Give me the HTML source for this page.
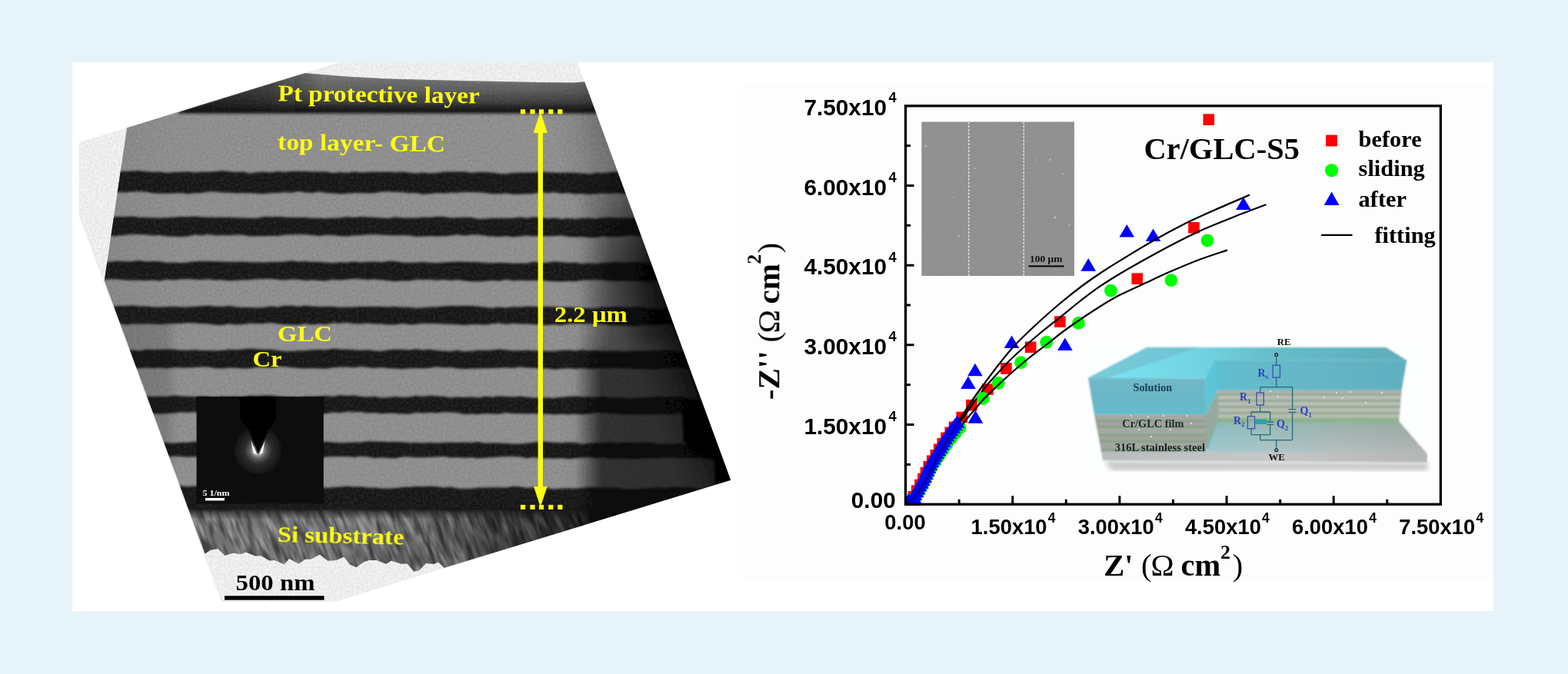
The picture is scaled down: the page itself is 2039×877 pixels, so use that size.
<!DOCTYPE html>
<html lang="en"><head><meta charset="utf-8"><title>Cr/GLC multilayer - TEM cross-section and Nyquist plot</title>
<style>
html,body{margin:0;padding:0;background:#e6f4fa;overflow:hidden}
svg{display:block}
.ser{font-family:"Liberation Serif",serif;font-weight:bold}
.san{font-family:"Liberation Sans",sans-serif;font-weight:bold}
</style></head><body>
<svg width="2039" height="877" viewBox="0 0 2039 877">
<defs>
<filter id="b1" x="-5%" y="-5%" width="110%" height="110%"><feGaussianBlur stdDeviation="1"/></filter>
<filter id="b06" x="-5%" y="-5%" width="110%" height="110%"><feGaussianBlur stdDeviation="0.6"/></filter>
<filter id="b15" x="-5%" y="-20%" width="110%" height="140%"><feGaussianBlur stdDeviation="1.6"/></filter>
<filter id="b3" x="-10%" y="-10%" width="120%" height="120%"><feGaussianBlur stdDeviation="3"/></filter>
<filter id="b6" x="-20%" y="-20%" width="140%" height="140%"><feGaussianBlur stdDeviation="6"/></filter>
<filter id="nz" x="0" y="0" width="100%" height="100%">
 <feTurbulence type="fractalNoise" baseFrequency="0.35" numOctaves="2" seed="3" result="t"/>
 <feColorMatrix in="t" type="matrix" values="0 0 0 0 0  0 0 0 0 0  0 0 0 0 0  1.4 0 0 0 -0.45"/>
</filter>
<filter id="nzw" x="0" y="0" width="100%" height="100%">
 <feTurbulence type="fractalNoise" baseFrequency="0.3" numOctaves="2" seed="11" result="t"/>
 <feColorMatrix in="t" type="matrix" values="0 0 0 0 1  0 0 0 0 1  0 0 0 0 1  1.4 0 0 0 -0.45"/>
</filter>
<filter id="si" x="0" y="0" width="100%" height="100%">
 <feTurbulence type="fractalNoise" baseFrequency="0.11 0.018" numOctaves="3" seed="5" result="t"/>
 <feColorMatrix in="t" type="matrix" values="0 0 0 0 1  0 0 0 0 1  0 0 0 0 1  3.2 0 0 0 -1.35"/>
</filter>
<filter id="si2" x="0" y="0" width="100%" height="100%">
 <feTurbulence type="fractalNoise" baseFrequency="0.14 0.03" numOctaves="2" seed="9" result="t"/>
 <feColorMatrix in="t" type="matrix" values="0 0 0 0 0  0 0 0 0 0  0 0 0 0 0  3.2 0 0 0 -1.35"/>
</filter>
</defs>
<rect x="94" y="81" width="1848" height="714" fill="#ffffff"/>
<rect x="965" y="108.5" width="977" height="647.5" fill="#fdfdfd"/>
<clipPath id="cTEM"><polygon points="102.6,185.4 441.9,81.0 751.0,81.0 950.3,624.7 435.0,783.2 288.0,783.2 102.6,280.0"/></clipPath>
<clipPath id="cS"><polygon points="165.3,164.8 396.0,95.0 450.0,99.5 500.0,102.3 600.0,105.0 700.0,107.0 745.0,107.5 759.0,106.5 761.3,106.5 951.0,625.0 577.0,739.0 577.0,738.0 578.7,739.6 570.1,731.5 564.1,733.8 553.9,733.0 544.8,742.3 538.2,743.4 529.4,733.2 521.3,733.4 508.6,729.4 502.3,733.7 489.8,729.0 479.7,728.9 473.3,731.0 463.4,738.1 454.9,734.4 447.5,724.4 436.8,729.0 426.2,729.5 415.8,721.5 404.3,727.5 397.1,727.6 388.2,733.4 376.0,726.8 369.9,734.3 357.3,728.9 350.1,729.2 339.8,723.3 331.7,723.2 320.0,718.4 312.2,721.0 303.7,719.6 292.3,722.8 283.5,714.1 274.2,715.5 266.5,720.4 135.7,365.3"/></clipPath>
<g clip-path="url(#cTEM)">
<rect x="95" y="75" width="870" height="720" fill="#f3f3f3"/>
<rect x="95" y="75" width="870" height="720" fill="#000" opacity="0.09" filter="url(#nz)"/>
<g filter="url(#b06)"><g clip-path="url(#cS)">
<linearGradient id="gGLC" gradientUnits="userSpaceOnUse" x1="130" y1="0" x2="960" y2="0"><stop offset="0" stop-color="#888888"/><stop offset="0.12" stop-color="#909090"/><stop offset="0.72" stop-color="#919191"/><stop offset="0.78" stop-color="#868686"/><stop offset="1" stop-color="#7a7a7a"/></linearGradient>
<rect x="95" y="75" width="870" height="720" fill="url(#gGLC)"/>
<rect x="95" y="75" width="870" height="720" fill="#fff" opacity="0.10" filter="url(#nzw)"/>
<rect x="95" y="75" width="870" height="720" fill="#000" opacity="0.10" filter="url(#nz)"/>
<linearGradient id="gSi" gradientUnits="userSpaceOnUse" x1="250" y1="0" x2="900" y2="0"><stop offset="0" stop-color="#747474"/><stop offset="0.45" stop-color="#666666"/><stop offset="0.7" stop-color="#424242"/><stop offset="1" stop-color="#101010"/></linearGradient>
<rect x="200" y="655" width="760" height="140" fill="url(#gSi)"/>
<clipPath id="cSi"><rect x="200" y="664" width="760" height="130"/></clipPath>
<g clip-path="url(#cSi)"><g transform="rotate(-27 450 700)" opacity="0.30"><rect x="100" y="400" width="1000" height="700" fill="#fff" filter="url(#si)"/></g><g transform="rotate(-20 450 700)" opacity="0.45"><rect x="100" y="400" width="1000" height="700" fill="#000" filter="url(#si2)"/></g></g>
<linearGradient id="gSiR" gradientUnits="userSpaceOnUse" x1="560" y1="0" x2="900" y2="0"><stop offset="0" stop-color="#000" stop-opacity="0"/><stop offset="1" stop-color="#000" stop-opacity="0.85"/></linearGradient>
<rect x="560" y="655" width="400" height="140" fill="url(#gSiR)"/>
<linearGradient id="gSiT" gradientUnits="userSpaceOnUse" x1="0" y1="660" x2="0" y2="676"><stop offset="0" stop-color="#1c1c1c" stop-opacity="1"/><stop offset="1" stop-color="#1c1c1c" stop-opacity="0"/></linearGradient>
<rect x="200" y="655" width="760" height="22" fill="url(#gSiT)"/>
<linearGradient id="gPt" gradientUnits="userSpaceOnUse" x1="0" y1="94" x2="0" y2="150"><stop offset="0" stop-color="#787878"/><stop offset="0.4" stop-color="#5e5e5e"/><stop offset="0.68" stop-color="#404040"/><stop offset="0.84" stop-color="#1e1e1e"/><stop offset="0.92" stop-color="#1e1e1e"/><stop offset="1" stop-color="#1e1e1e" stop-opacity="0"/></linearGradient>
<polygon points="232.0,146.0 396.0,94.0 396.0,95.0 450.0,99.5 500.0,102.3 600.0,105.0 700.0,107.0 745.0,107.5 759.0,106.5 800.0,100.0 800.0,150.5 232.0,150.5" fill="url(#gPt)" filter="url(#b1)"/>
<linearGradient id="gPtL" gradientUnits="userSpaceOnUse" x1="240" y1="0" x2="420" y2="0"><stop offset="0" stop-color="#161616" stop-opacity="0.75"/><stop offset="0.6" stop-color="#161616" stop-opacity="0.5"/><stop offset="1" stop-color="#161616" stop-opacity="0"/></linearGradient>
<polygon points="236,145 400,93 420,96 420,146" fill="url(#gPtL)" filter="url(#b1)"/>
<rect x="230" y="90" width="560" height="52" fill="#fff" opacity="0.07" filter="url(#nzw)"/>
<g filter="url(#b15)">
<polygon points="100.0,224.6 109.0,224.8 118.0,224.5 127.0,223.9 136.0,224.7 145.0,224.3 154.0,223.3 163.0,223.1 172.0,222.5 181.0,222.2 190.0,223.2 199.0,224.1 208.0,223.5 217.0,225.1 226.0,224.1 235.0,223.9 244.0,223.2 253.0,224.6 262.0,223.7 271.0,223.8 280.0,223.2 289.0,222.3 298.0,223.2 307.0,223.9 316.0,223.6 325.0,225.4 334.0,224.3 343.0,223.7 352.0,224.6 361.0,222.9 370.0,224.1 379.0,222.9 388.0,223.1 397.0,222.9 406.0,223.6 415.0,223.4 424.0,223.5 433.0,225.3 442.0,224.1 451.0,224.9 460.0,223.5 469.0,224.6 478.0,224.1 487.0,223.7 496.0,223.7 505.0,223.6 514.0,224.3 523.0,223.6 532.0,224.7 541.0,225.6 550.0,224.4 559.0,225.5 568.0,225.1 577.0,223.8 586.0,223.4 595.0,223.4 604.0,223.4 613.0,224.9 622.0,224.1 631.0,223.9 640.0,224.4 649.0,225.7 658.0,226.2 667.0,225.0 676.0,224.7 685.0,224.4 694.0,224.5 703.0,223.4 712.0,224.2 721.0,224.4 730.0,225.0 739.0,224.6 748.0,224.9 757.0,225.4 766.0,226.5 775.0,225.1 784.0,225.2 793.0,224.3 802.0,223.6 811.0,223.5 820.0,225.0 829.0,225.3 838.0,225.0 847.0,226.0 856.0,226.3 865.0,226.8 874.0,226.9 883.0,225.5 892.0,226.3 901.0,225.8 910.0,224.9 919.0,225.4 928.0,224.8 937.0,224.9 946.0,225.1 955.0,226.8 964.0,225.7 964.0,252.8 955.0,253.5 946.0,252.8 937.0,251.0 928.0,251.8 919.0,251.8 910.0,252.4 901.0,252.0 892.0,253.7 883.0,253.5 874.0,253.1 865.0,253.2 856.0,251.9 847.0,253.1 838.0,251.9 829.0,251.5 820.0,250.9 811.0,252.2 802.0,251.3 793.0,251.9 784.0,251.6 775.0,252.3 766.0,253.1 757.0,252.1 748.0,252.6 739.0,251.1 730.0,251.8 721.0,250.2 712.0,250.9 703.0,250.1 694.0,251.9 685.0,252.3 676.0,252.8 667.0,252.7 658.0,251.5 649.0,252.2 640.0,252.2 631.0,251.1 622.0,250.3 613.0,250.0 604.0,250.0 595.0,250.7 586.0,250.7 577.0,251.5 568.0,251.1 559.0,252.3 550.0,252.7 541.0,251.0 532.0,251.2 523.0,250.0 514.0,249.7 505.0,249.5 496.0,249.5 487.0,251.2 478.0,251.6 469.0,250.9 460.0,251.0 451.0,251.8 442.0,252.2 433.0,251.6 424.0,251.1 415.0,249.6 406.0,251.1 397.0,250.4 388.0,249.1 379.0,250.8 370.0,250.2 361.0,251.1 352.0,251.0 343.0,252.2 334.0,251.7 325.0,251.2 316.0,251.1 307.0,251.2 298.0,250.7 289.0,250.6 280.0,249.5 271.0,249.4 262.0,251.1 253.0,251.2 244.0,252.3 235.0,251.1 226.0,251.5 217.0,251.7 208.0,251.8 199.0,251.2 190.0,249.8 181.0,249.2 172.0,249.4 163.0,250.2 154.0,250.3 145.0,250.7 136.0,250.6 127.0,252.2 118.0,251.5 109.0,251.7 100.0,251.4" fill="#181818"/>
<polygon points="100.0,284.5 109.0,282.8 118.0,282.4 127.0,282.0 136.0,283.0 145.0,282.6 154.0,281.9 163.0,282.3 172.0,281.5 181.0,283.1 190.0,283.1 199.0,283.5 208.0,283.4 217.0,283.3 226.0,282.7 235.0,281.9 244.0,282.2 253.0,281.6 262.0,282.4 271.0,282.7 280.0,282.9 289.0,282.8 298.0,282.7 307.0,283.3 316.0,283.6 325.0,283.7 334.0,284.0 343.0,281.9 352.0,282.3 361.0,282.0 370.0,282.4 379.0,282.9 388.0,283.0 397.0,283.1 406.0,283.8 415.0,283.9 424.0,284.3 433.0,283.8 442.0,283.4 451.0,282.2 460.0,283.1 469.0,281.9 478.0,282.4 487.0,283.0 496.0,283.6 505.0,284.1 514.0,282.6 523.0,283.5 532.0,283.5 541.0,283.5 550.0,282.7 559.0,283.1 568.0,281.9 577.0,282.1 586.0,283.4 595.0,283.2 604.0,283.1 613.0,282.9 622.0,284.9 631.0,284.6 640.0,283.7 649.0,283.8 658.0,284.0 667.0,283.7 676.0,282.6 685.0,283.7 694.0,282.6 703.0,282.7 712.0,284.3 721.0,283.4 730.0,284.8 739.0,284.0 748.0,284.8 757.0,284.0 766.0,283.8 775.0,284.5 784.0,283.3 793.0,283.1 802.0,283.5 811.0,283.2 820.0,283.4 829.0,284.2 838.0,284.4 847.0,284.4 856.0,285.9 865.0,283.8 874.0,285.0 883.0,284.8 892.0,284.1 901.0,282.7 910.0,283.7 919.0,283.1 928.0,284.7 937.0,285.3 946.0,284.7 955.0,284.4 964.0,285.4 964.0,308.4 955.0,309.0 946.0,308.3 937.0,308.0 928.0,307.3 919.0,308.2 910.0,306.9 901.0,308.5 892.0,308.2 883.0,309.3 874.0,308.0 865.0,308.8 856.0,308.7 847.0,308.0 838.0,307.6 829.0,306.7 820.0,305.9 811.0,307.4 802.0,307.9 793.0,308.3 784.0,307.6 775.0,309.0 766.0,309.0 757.0,308.2 748.0,308.6 739.0,307.9 730.0,306.4 721.0,306.9 712.0,307.2 703.0,307.1 694.0,307.4 685.0,306.5 676.0,307.5 667.0,308.2 658.0,307.2 649.0,308.0 640.0,307.4 631.0,306.7 622.0,305.6 613.0,305.6 604.0,306.7 595.0,305.3 586.0,306.5 577.0,307.2 568.0,307.5 559.0,307.2 550.0,307.5 541.0,308.1 532.0,306.2 523.0,305.9 514.0,306.4 505.0,306.1 496.0,305.7 487.0,304.9 478.0,305.3 469.0,306.0 460.0,306.2 451.0,307.4 442.0,307.1 433.0,306.1 424.0,305.8 415.0,306.9 406.0,306.0 397.0,305.2 388.0,305.2 379.0,305.2 370.0,305.7 361.0,307.0 352.0,306.8 343.0,307.3 334.0,307.3 325.0,307.5 316.0,305.7 307.0,305.5 298.0,306.2 289.0,306.0 280.0,306.3 271.0,304.9 262.0,306.2 253.0,305.6 244.0,307.6 235.0,307.9 226.0,307.7 217.0,307.4 208.0,305.9 199.0,306.2 190.0,305.5 181.0,304.9 172.0,304.7 163.0,305.8 154.0,306.7 145.0,307.1 136.0,306.2 127.0,306.8 118.0,307.8 109.0,306.7 100.0,306.1" fill="#181818"/>
<polygon points="100.0,340.7 109.0,340.6 118.0,341.6 127.0,342.2 136.0,341.2 145.0,340.4 154.0,339.8 163.0,340.2 172.0,340.2 181.0,339.1 190.0,340.5 199.0,340.0 208.0,340.2 217.0,342.1 226.0,341.6 235.0,342.3 244.0,341.4 253.0,340.3 262.0,340.1 271.0,340.1 280.0,340.3 289.0,340.5 298.0,340.7 307.0,340.8 316.0,340.5 325.0,341.2 334.0,341.3 343.0,341.5 352.0,340.9 361.0,341.1 370.0,340.5 379.0,339.3 388.0,340.6 397.0,340.2 406.0,340.8 415.0,341.1 424.0,341.5 433.0,342.3 442.0,341.3 451.0,341.4 460.0,340.4 469.0,341.4 478.0,340.8 487.0,340.5 496.0,341.2 505.0,339.7 514.0,340.0 523.0,341.4 532.0,342.0 541.0,341.7 550.0,341.1 559.0,341.7 568.0,342.3 577.0,341.4 586.0,340.9 595.0,340.5 604.0,340.8 613.0,340.9 622.0,341.3 631.0,342.1 640.0,342.3 649.0,341.9 658.0,341.9 667.0,342.8 676.0,342.6 685.0,342.5 694.0,340.7 703.0,341.7 712.0,341.7 721.0,340.3 730.0,341.0 739.0,342.1 748.0,341.6 757.0,343.2 766.0,342.3 775.0,343.0 784.0,342.0 793.0,341.5 802.0,341.1 811.0,341.4 820.0,341.7 829.0,340.9 838.0,342.2 847.0,341.9 856.0,343.0 865.0,342.7 874.0,342.5 883.0,342.3 892.0,341.9 901.0,342.7 910.0,341.8 919.0,341.0 928.0,342.4 937.0,342.2 946.0,341.3 955.0,343.1 964.0,343.3 964.0,366.1 955.0,366.3 946.0,366.8 937.0,366.2 928.0,366.3 919.0,366.2 910.0,365.6 901.0,365.5 892.0,365.4 883.0,365.0 874.0,366.0 865.0,365.4 856.0,365.5 847.0,366.2 838.0,366.8 829.0,365.6 820.0,365.7 811.0,365.0 802.0,365.7 793.0,365.4 784.0,364.4 775.0,364.0 766.0,364.6 757.0,364.5 748.0,366.3 739.0,365.8 730.0,366.4 721.0,366.3 712.0,365.4 703.0,364.6 694.0,364.9 685.0,364.9 676.0,364.8 667.0,365.3 658.0,363.8 649.0,365.8 640.0,364.8 631.0,365.8 622.0,366.2 613.0,366.3 604.0,365.2 595.0,363.9 586.0,364.9 577.0,363.8 568.0,364.7 559.0,363.7 550.0,363.9 541.0,363.8 532.0,365.4 523.0,365.3 514.0,366.0 505.0,365.3 496.0,364.2 487.0,363.6 478.0,364.1 469.0,363.2 460.0,362.8 451.0,363.8 442.0,364.4 433.0,363.8 424.0,365.3 415.0,364.9 406.0,364.3 397.0,365.0 388.0,363.8 379.0,363.6 370.0,364.4 361.0,363.8 352.0,362.8 343.0,363.1 334.0,363.2 325.0,363.9 316.0,364.5 307.0,364.7 298.0,365.6 289.0,364.2 280.0,364.5 271.0,363.3 262.0,363.9 253.0,363.7 244.0,363.0 235.0,363.6 226.0,364.4 217.0,363.6 208.0,365.4 199.0,364.5 190.0,365.1 181.0,364.7 172.0,364.7 163.0,364.5 154.0,363.4 145.0,363.2 136.0,363.8 127.0,364.0 118.0,363.9 109.0,365.5 100.0,364.9" fill="#181818"/>
<polygon points="100.0,400.1 109.0,399.4 118.0,399.0 127.0,398.5 136.0,398.5 145.0,399.3 154.0,397.9 163.0,398.3 172.0,397.5 181.0,398.5 190.0,398.5 199.0,399.4 208.0,399.4 217.0,399.3 226.0,399.1 235.0,399.5 244.0,399.6 253.0,398.9 262.0,398.2 271.0,397.7 280.0,398.8 289.0,398.9 298.0,398.0 307.0,399.4 316.0,399.9 325.0,399.9 334.0,400.4 343.0,400.0 352.0,398.4 361.0,399.5 370.0,397.8 379.0,397.8 388.0,399.0 397.0,397.7 406.0,398.5 415.0,399.3 424.0,399.0 433.0,399.1 442.0,400.1 451.0,399.5 460.0,399.4 469.0,399.1 478.0,399.0 487.0,398.9 496.0,398.9 505.0,399.5 514.0,399.0 523.0,399.8 532.0,399.8 541.0,400.8 550.0,400.2 559.0,399.5 568.0,399.6 577.0,398.5 586.0,397.9 595.0,398.3 604.0,398.0 613.0,398.0 622.0,398.7 631.0,399.8 640.0,400.7 649.0,399.5 658.0,400.5 667.0,399.2 676.0,399.6 685.0,398.8 694.0,398.9 703.0,399.3 712.0,398.9 721.0,399.2 730.0,400.3 739.0,399.6 748.0,400.3 757.0,401.1 766.0,401.2 775.0,401.2 784.0,399.4 793.0,399.8 802.0,399.0 811.0,399.7 820.0,400.2 829.0,399.2 838.0,400.0 847.0,401.6 856.0,400.7 865.0,401.3 874.0,401.5 883.0,400.2 892.0,400.8 901.0,398.9 910.0,399.4 919.0,399.0 928.0,399.6 937.0,399.7 946.0,399.8 955.0,401.7 964.0,400.8 964.0,422.3 955.0,423.6 946.0,422.7 937.0,424.5 928.0,423.8 919.0,424.5 910.0,423.6 901.0,422.4 892.0,423.2 883.0,422.4 874.0,422.5 865.0,422.2 856.0,422.9 847.0,423.1 838.0,422.8 829.0,423.8 820.0,423.9 811.0,423.2 802.0,423.1 793.0,423.0 784.0,421.6 775.0,421.4 766.0,421.1 757.0,421.2 748.0,421.3 739.0,421.6 730.0,422.9 721.0,422.3 712.0,423.1 703.0,422.5 694.0,421.9 685.0,421.6 676.0,421.4 667.0,420.7 658.0,422.1 649.0,420.6 640.0,421.3 631.0,422.7 622.0,422.1 613.0,422.1 604.0,423.1 595.0,422.3 586.0,421.8 577.0,421.7 568.0,420.9 559.0,421.1 550.0,420.8 541.0,422.0 532.0,422.3 523.0,421.0 514.0,422.4 505.0,422.6 496.0,421.5 487.0,421.6 478.0,420.6 469.0,421.5 460.0,421.3 451.0,419.8 442.0,420.7 433.0,420.2 424.0,422.0 415.0,421.6 406.0,422.4 397.0,421.3 388.0,422.8 379.0,422.5 370.0,422.3 361.0,421.2 352.0,420.0 343.0,421.0 334.0,420.9 325.0,420.8 316.0,422.1 307.0,422.6 298.0,421.2 289.0,423.0 280.0,422.7 271.0,421.6 262.0,420.9 253.0,420.5 244.0,420.1 235.0,420.9 226.0,421.1 217.0,421.6 208.0,421.9 199.0,421.5 190.0,421.5 181.0,421.6 172.0,421.6 163.0,422.5 154.0,420.5 145.0,421.3 136.0,419.9 127.0,420.7 118.0,421.3 109.0,421.6 100.0,421.5" fill="#181818"/>
<polygon points="100.0,454.5 109.0,454.6 118.0,454.1 127.0,454.4 136.0,455.9 145.0,455.9 154.0,456.2 163.0,455.4 172.0,455.6 181.0,456.6 190.0,454.7 199.0,455.0 208.0,455.0 217.0,454.5 226.0,454.7 235.0,455.8 244.0,455.8 253.0,455.2 262.0,455.9 271.0,455.9 280.0,456.3 289.0,456.0 298.0,454.8 307.0,455.2 316.0,454.4 325.0,453.6 334.0,454.2 343.0,454.7 352.0,454.8 361.0,456.1 370.0,457.0 379.0,456.9 388.0,456.2 397.0,456.3 406.0,455.2 415.0,455.0 424.0,455.3 433.0,453.7 442.0,454.4 451.0,454.8 460.0,455.2 469.0,455.8 478.0,455.3 487.0,456.6 496.0,457.0 505.0,455.3 514.0,454.8 523.0,454.7 532.0,455.4 541.0,454.3 550.0,455.6 559.0,454.8 568.0,456.1 577.0,456.7 586.0,456.9 595.0,455.8 604.0,457.3 613.0,456.8 622.0,455.7 631.0,456.1 640.0,455.4 649.0,454.6 658.0,455.3 667.0,456.5 676.0,456.3 685.0,455.8 694.0,456.3 703.0,456.4 712.0,456.9 721.0,456.7 730.0,456.0 739.0,455.6 748.0,456.5 757.0,455.3 766.0,456.2 775.0,455.8 784.0,456.8 793.0,456.5 802.0,456.6 811.0,457.0 820.0,456.4 829.0,456.5 838.0,456.7 847.0,456.2 856.0,456.5 865.0,456.0 874.0,455.5 883.0,457.2 892.0,457.0 901.0,458.0 910.0,458.6 919.0,457.7 928.0,457.0 937.0,456.8 946.0,456.7 955.0,456.1 964.0,455.6 964.0,480.1 955.0,481.0 946.0,481.6 937.0,481.1 928.0,480.7 919.0,479.5 910.0,479.6 901.0,479.3 892.0,480.0 883.0,478.5 874.0,479.6 865.0,479.0 856.0,480.5 847.0,480.4 838.0,480.2 829.0,480.0 820.0,479.7 811.0,479.4 802.0,478.6 793.0,479.4 784.0,479.1 775.0,479.7 766.0,480.1 757.0,479.1 748.0,480.1 739.0,479.3 730.0,479.7 721.0,480.7 712.0,479.6 703.0,479.5 694.0,478.8 685.0,478.6 676.0,477.5 667.0,479.0 658.0,478.2 649.0,478.7 640.0,479.1 631.0,479.2 622.0,479.5 613.0,479.4 604.0,479.9 595.0,479.5 586.0,478.0 577.0,478.6 568.0,477.3 559.0,478.7 550.0,479.3 541.0,478.9 532.0,479.3 523.0,480.3 514.0,479.4 505.0,479.3 496.0,478.0 487.0,479.0 478.0,477.9 469.0,476.9 460.0,478.2 451.0,477.4 442.0,477.7 433.0,478.3 424.0,479.8 415.0,479.6 406.0,479.0 397.0,479.6 388.0,479.1 379.0,478.3 370.0,477.2 361.0,476.7 352.0,478.5 343.0,477.8 334.0,477.8 325.0,479.2 316.0,479.5 307.0,478.8 298.0,478.4 289.0,479.5 280.0,479.2 271.0,477.6 262.0,477.4 253.0,478.0 244.0,478.4 235.0,478.4 226.0,478.2 217.0,479.3 208.0,478.6 199.0,479.0 190.0,478.5 181.0,479.1 172.0,478.8 163.0,477.0 154.0,477.8 145.0,477.3 136.0,478.2 127.0,478.7 118.0,478.9 109.0,479.4 100.0,479.3" fill="#181818"/>
<polygon points="100.0,514.7 109.0,515.7 118.0,514.7 127.0,515.4 136.0,514.5 145.0,515.8 154.0,515.4 163.0,515.5 172.0,516.1 181.0,517.2 190.0,516.1 199.0,516.0 208.0,516.1 217.0,516.1 226.0,514.5 235.0,515.4 244.0,515.8 253.0,516.2 262.0,515.8 271.0,516.3 280.0,517.1 289.0,516.1 298.0,516.3 307.0,516.2 316.0,516.2 325.0,514.7 334.0,515.3 343.0,514.5 352.0,514.6 361.0,515.6 370.0,516.4 379.0,516.7 388.0,517.4 397.0,515.9 406.0,516.3 415.0,515.8 424.0,515.0 433.0,515.9 442.0,514.3 451.0,514.7 460.0,514.5 469.0,516.1 478.0,516.6 487.0,516.1 496.0,517.6 505.0,517.0 514.0,515.9 523.0,516.9 532.0,516.4 541.0,515.1 550.0,516.1 559.0,514.8 568.0,515.6 577.0,516.1 586.0,517.6 595.0,516.6 604.0,516.9 613.0,516.5 622.0,517.4 631.0,515.8 640.0,516.7 649.0,515.5 658.0,515.9 667.0,516.6 676.0,515.8 685.0,516.8 694.0,517.4 703.0,517.6 712.0,517.4 721.0,517.7 730.0,516.8 739.0,516.1 748.0,515.4 757.0,516.4 766.0,516.3 775.0,516.9 784.0,516.0 793.0,517.5 802.0,517.5 811.0,517.9 820.0,518.5 829.0,517.8 838.0,517.3 847.0,517.3 856.0,516.0 865.0,517.2 874.0,516.6 883.0,515.9 892.0,517.1 901.0,518.4 910.0,518.9 919.0,518.1 928.0,517.8 937.0,518.9 946.0,517.4 955.0,516.5 964.0,516.6 964.0,539.3 955.0,540.0 946.0,539.5 937.0,540.4 928.0,539.9 919.0,538.4 910.0,538.7 901.0,538.6 892.0,538.9 883.0,537.3 874.0,539.1 865.0,538.4 856.0,539.2 847.0,538.9 838.0,539.4 829.0,539.5 820.0,538.7 811.0,539.2 802.0,538.1 793.0,537.7 784.0,537.1 775.0,536.9 766.0,538.4 757.0,539.2 748.0,538.8 739.0,539.2 730.0,538.7 721.0,539.6 712.0,538.5 703.0,538.6 694.0,538.0 685.0,538.5 676.0,538.0 667.0,537.9 658.0,537.0 649.0,538.7 640.0,538.6 631.0,537.9 622.0,538.9 613.0,538.6 604.0,539.1 595.0,537.1 586.0,536.6 577.0,536.3 568.0,537.2 559.0,536.8 550.0,537.4 541.0,536.7 532.0,538.8 523.0,538.6 514.0,537.8 505.0,537.4 496.0,538.3 487.0,536.9 478.0,537.6 469.0,536.0 460.0,536.2 451.0,535.7 442.0,537.2 433.0,536.4 424.0,537.9 415.0,538.5 406.0,538.4 397.0,537.7 388.0,538.2 379.0,537.3 370.0,537.5 361.0,536.7 352.0,536.3 343.0,535.8 334.0,537.8 325.0,537.3 316.0,538.7 307.0,538.1 298.0,538.8 289.0,538.5 280.0,538.2 271.0,538.0 262.0,536.0 253.0,536.3 244.0,536.7 235.0,536.6 226.0,537.4 217.0,538.0 208.0,538.7 199.0,538.1 190.0,538.7 181.0,537.9 172.0,538.0 163.0,537.0 154.0,537.2 145.0,535.9 136.0,536.2 127.0,537.1 118.0,536.7 109.0,536.6 100.0,538.1" fill="#181818"/>
<polygon points="100.0,576.1 109.0,575.4 118.0,576.0 127.0,576.6 136.0,576.6 145.0,576.2 154.0,574.9 163.0,575.4 172.0,573.9 181.0,574.6 190.0,574.6 199.0,575.7 208.0,575.9 217.0,576.1 226.0,576.7 235.0,575.8 244.0,575.8 253.0,574.8 262.0,574.8 271.0,574.2 280.0,575.0 289.0,573.8 298.0,575.5 307.0,575.3 316.0,575.4 325.0,575.1 334.0,576.0 343.0,576.2 352.0,575.1 361.0,576.4 370.0,574.8 379.0,574.6 388.0,574.1 397.0,574.3 406.0,574.3 415.0,575.8 424.0,574.7 433.0,575.6 442.0,576.3 451.0,576.0 460.0,575.5 469.0,575.5 478.0,574.3 487.0,574.5 496.0,574.6 505.0,575.3 514.0,574.9 523.0,575.3 532.0,576.2 541.0,575.9 550.0,576.6 559.0,575.8 568.0,576.4 577.0,575.9 586.0,575.7 595.0,575.9 604.0,575.6 613.0,576.1 622.0,575.0 631.0,576.8 640.0,576.3 649.0,576.4 658.0,576.8 667.0,577.6 676.0,577.4 685.0,576.7 694.0,575.4 703.0,574.8 712.0,574.9 721.0,575.9 730.0,576.3 739.0,575.5 748.0,575.8 757.0,578.1 766.0,576.9 775.0,576.3 784.0,576.8 793.0,575.7 802.0,576.7 811.0,575.9 820.0,576.0 829.0,576.8 838.0,575.6 847.0,576.2 856.0,577.8 865.0,577.7 874.0,577.5 883.0,577.2 892.0,577.4 901.0,577.7 910.0,577.3 919.0,577.0 928.0,577.1 937.0,575.7 946.0,575.9 955.0,577.9 964.0,577.2 964.0,595.8 955.0,597.5 946.0,597.0 937.0,597.3 928.0,596.7 919.0,597.8 910.0,596.3 901.0,596.5 892.0,595.6 883.0,596.0 874.0,594.8 865.0,595.3 856.0,595.9 847.0,596.1 838.0,596.1 829.0,597.1 820.0,596.9 811.0,596.6 802.0,596.3 793.0,596.4 784.0,594.7 775.0,596.0 766.0,595.1 757.0,595.3 748.0,596.5 739.0,597.2 730.0,596.1 721.0,596.7 712.0,596.3 703.0,596.5 694.0,594.8 685.0,596.2 676.0,594.2 667.0,593.9 658.0,594.0 649.0,594.6 640.0,595.1 631.0,595.8 622.0,596.2 613.0,595.3 604.0,595.7 595.0,594.9 586.0,595.3 577.0,594.0 568.0,594.4 559.0,594.8 550.0,595.3 541.0,595.3 532.0,594.3 523.0,594.6 514.0,596.2 505.0,596.1 496.0,595.2 487.0,596.0 478.0,594.3 469.0,593.7 460.0,595.0 451.0,594.1 442.0,593.9 433.0,594.1 424.0,594.5 415.0,596.2 406.0,595.9 397.0,594.9 388.0,596.1 379.0,594.1 370.0,594.4 361.0,594.4 352.0,593.8 343.0,593.4 334.0,594.7 325.0,594.8 316.0,595.9 307.0,595.4 298.0,595.0 289.0,595.3 280.0,595.1 271.0,594.9 262.0,595.2 253.0,594.0 244.0,594.7 235.0,594.1 226.0,593.4 217.0,594.6 208.0,595.7 199.0,595.5 190.0,596.0 181.0,595.3 172.0,596.2 163.0,594.2 154.0,595.1 145.0,594.9 136.0,593.4 127.0,593.3 118.0,594.2 109.0,595.6 100.0,595.0" fill="#181818"/>
<polygon points="100.0,633.9 109.0,633.8 118.0,632.7 127.0,633.1 136.0,634.0 145.0,632.5 154.0,634.5 163.0,634.9 172.0,634.3 181.0,633.8 190.0,634.5 199.0,635.2 208.0,633.0 217.0,634.0 226.0,633.7 235.0,632.3 244.0,633.2 253.0,632.6 262.0,632.9 271.0,634.1 280.0,634.0 289.0,634.9 298.0,634.6 307.0,633.8 316.0,634.7 325.0,632.5 334.0,633.7 343.0,632.6 352.0,633.8 361.0,633.5 370.0,633.6 379.0,633.6 388.0,635.1 397.0,635.3 406.0,635.4 415.0,634.4 424.0,634.7 433.0,634.2 442.0,633.4 451.0,632.7 460.0,633.4 469.0,633.2 478.0,634.5 487.0,634.4 496.0,635.4 505.0,635.6 514.0,635.2 523.0,633.9 532.0,633.8 541.0,632.9 550.0,633.2 559.0,632.7 568.0,633.2 577.0,634.5 586.0,633.6 595.0,635.6 604.0,635.9 613.0,635.7 622.0,634.6 631.0,634.4 640.0,634.3 649.0,634.3 658.0,634.6 667.0,632.9 676.0,633.2 685.0,634.9 694.0,633.9 703.0,635.9 712.0,634.9 721.0,636.5 730.0,635.4 739.0,635.3 748.0,635.4 757.0,635.0 766.0,634.0 775.0,634.1 784.0,634.9 793.0,634.3 802.0,634.8 811.0,636.3 820.0,636.6 829.0,636.6 838.0,635.5 847.0,635.2 856.0,634.3 865.0,635.4 874.0,633.7 883.0,634.0 892.0,633.9 901.0,635.1 910.0,636.6 919.0,635.2 928.0,635.8 937.0,635.9 946.0,636.5 955.0,635.5 964.0,634.8 964.0,664.3 955.0,663.6 946.0,664.9 937.0,664.0 928.0,664.7 919.0,664.3 910.0,665.8 901.0,664.9 892.0,664.3 883.0,664.8 874.0,662.9 865.0,663.8 856.0,663.7 847.0,663.5 838.0,664.7 829.0,665.3 820.0,664.1 811.0,665.5 802.0,664.5 793.0,664.6 784.0,663.3 775.0,662.8 766.0,662.5 757.0,663.5 748.0,662.6 739.0,662.8 730.0,664.7 721.0,665.1 712.0,663.7 703.0,663.7 694.0,665.2 685.0,664.9 676.0,664.2 667.0,662.7 658.0,663.7 649.0,662.8 640.0,662.0 631.0,662.4 622.0,663.7 613.0,663.1 604.0,663.6 595.0,664.7 586.0,664.8 577.0,664.5 568.0,663.0 559.0,663.0 550.0,663.3 541.0,662.7 532.0,661.8 523.0,663.4 514.0,662.8 505.0,664.3 496.0,663.5 487.0,664.4 478.0,662.9 469.0,663.1 460.0,663.1 451.0,662.2 442.0,661.4 433.0,662.5 424.0,662.1 415.0,663.3 406.0,663.1 397.0,662.9 388.0,664.4 379.0,662.6 370.0,663.4 361.0,662.1 352.0,661.7 343.0,663.1 334.0,662.6 325.0,663.0 316.0,662.3 307.0,662.0 298.0,663.2 289.0,664.0 280.0,663.4 271.0,663.0 262.0,663.9 253.0,662.9 244.0,661.8 235.0,663.0 226.0,661.2 217.0,661.2 208.0,661.5 199.0,662.8 190.0,662.2 181.0,663.3 172.0,664.1 163.0,663.8 154.0,662.6 145.0,662.0 136.0,663.3 127.0,662.0 118.0,661.2 109.0,661.4 100.0,663.1" fill="#181818"/>
</g>
<clipPath id="cB"><rect x="100" y="226" width="870" height="23"/><rect x="100" y="285" width="870" height="19.5"/><rect x="100" y="343" width="870" height="19.5"/><rect x="100" y="401" width="870" height="18.5"/><rect x="100" y="457.5" width="870" height="19.0"/><rect x="100" y="518" width="870" height="17.5"/><rect x="100" y="577.5" width="870" height="15.5"/><rect x="100" y="636" width="870" height="25"/></clipPath>
<g clip-path="url(#cB)" opacity="0.10"><rect x="100" y="215" width="870" height="460" fill="#fff" filter="url(#nzw)"/></g>
<linearGradient id="gSh" gradientUnits="userSpaceOnUse" x1="748" y1="0" x2="782" y2="0"><stop offset="0" stop-color="#000" stop-opacity="0"/><stop offset="1" stop-color="#000" stop-opacity="0.63"/></linearGradient>
<linearGradient id="gShU" gradientUnits="userSpaceOnUse" x1="752" y1="0" x2="845" y2="0"><stop offset="0" stop-color="#000" stop-opacity="0"/><stop offset="0.45" stop-color="#000" stop-opacity="0.42"/><stop offset="1" stop-color="#000" stop-opacity="0.63"/></linearGradient>
<linearGradient id="gShY" gradientUnits="userSpaceOnUse" x1="0" y1="435" x2="0" y2="485"><stop offset="0" stop-color="#fff" stop-opacity="0"/><stop offset="1" stop-color="#fff" stop-opacity="1"/></linearGradient>
<linearGradient id="gShYU" gradientUnits="userSpaceOnUse" x1="0" y1="225" x2="0" y2="485"><stop offset="0" stop-color="#fff" stop-opacity="0.1"/><stop offset="0.46" stop-color="#fff" stop-opacity="1"/><stop offset="0.81" stop-color="#fff" stop-opacity="1"/><stop offset="1" stop-color="#fff" stop-opacity="0"/></linearGradient>
<mask id="mSh"><rect x="700" y="80" width="300" height="720" fill="url(#gShY)"/></mask>
<mask id="mShU"><rect x="700" y="80" width="300" height="720" fill="url(#gShYU)"/></mask>
<rect x="742" y="80" width="230" height="720" fill="url(#gSh)" mask="url(#mSh)"/>
<rect x="742" y="80" width="230" height="720" fill="url(#gShU)" mask="url(#mShU)"/>
<linearGradient id="gEd" gradientUnits="userSpaceOnUse" x1="789.6" y1="375.2" x2="850.6" y2="352.8"><stop offset="0" stop-color="#000" stop-opacity="0"/><stop offset="0.5" stop-color="#000" stop-opacity="0.22"/><stop offset="0.85" stop-color="#000" stop-opacity="0.5"/><stop offset="1" stop-color="#000" stop-opacity="0.68"/></linearGradient>
<linearGradient id="gEdY" gradientUnits="userSpaceOnUse" x1="0" y1="215" x2="0" y2="400"><stop offset="0" stop-color="#fff" stop-opacity="0.15"/><stop offset="1" stop-color="#fff" stop-opacity="1"/></linearGradient>
<mask id="mEd"><rect x="700" y="80" width="300" height="720" fill="url(#gEdY)"/></mask>
<rect x="700" y="80" width="270" height="580" fill="url(#gEd)" mask="url(#mEd)"/>
<polygon points="886.0,536.0 887.5,541.0 888.5,574.0 900.0,584.0 925.0,596.0 929.0,600.0 930.0,632.0 940.0,660.0 965.0,660.0 965.0,530.0" fill="#000" opacity="0.95" filter="url(#b15)"/>
<linearGradient id="gLf" gradientUnits="userSpaceOnUse" x1="215" y1="0" x2="232" y2="0"><stop offset="0" stop-color="#000" stop-opacity="0.13"/><stop offset="1" stop-color="#000" stop-opacity="0"/></linearGradient>
<rect x="100" y="420" width="132" height="240" fill="url(#gLf)"/>
</g></g></g>
<g filter="url(#b06)">
<rect x="255.6" y="516.3" width="165.1" height="138.9" fill="#070707"/>
<clipPath id="cIn"><rect x="255.6" y="516.3" width="165.1" height="138.9"/></clipPath>
<radialGradient id="gHalo" gradientUnits="userSpaceOnUse" cx="335.5" cy="586" r="36"><stop offset="0" stop-color="#fff" stop-opacity="1"/><stop offset="0.14" stop-color="#e0e0e0" stop-opacity="0.85"/><stop offset="0.3" stop-color="#8a8a8a" stop-opacity="0.65"/><stop offset="0.5" stop-color="#4a4a4a" stop-opacity="0.55"/><stop offset="0.78" stop-color="#303030" stop-opacity="0.45"/><stop offset="1" stop-color="#1a1a1a" stop-opacity="0"/></radialGradient>
<g clip-path="url(#cIn)"><circle cx="335.5" cy="586" r="36" fill="url(#gHalo)"/>
<path d="M313 514 L357.5 514 L357 544 Q353 553 348.5 561 L336.6 590.5 L334.6 590.5 L324 561 Q320 552 313.5 544 Z" fill="#030303" filter="url(#b1)"/>
<path d="M326.2 573 L334.4 592 L329.6 589.4 Z M344.6 573 L336.8 592 L341.6 589 Z" fill="#fff" filter="url(#b06)"/></g>
</g>
<rect x="267" y="648" width="25" height="3.4" fill="#fff"/>
<text class="ser" x="0" y="0" font-size="11" fill="#fff" transform="translate(263.4 645.3) scale(1.1 1)">5 1/nm</text>
<g filter="url(#b06)">
<text class="ser" font-size="30" fill="#fcfc14" transform="translate(361.3 131.2) rotate(0.7) scale(1.112 1)">Pt protective layer</text>
<text class="ser" font-size="30" fill="#fcfc14" transform="translate(361 194.6) rotate(0.7) scale(1.115 1)">top layer- GLC</text>
<text class="ser" font-size="30" fill="#fcfc14" transform="translate(361 443.5) scale(1.092 1)">GLC</text>
<text class="ser" font-size="30" fill="#fcfc14" transform="translate(328.4 477) scale(1.092 1)">Cr</text>
<text class="ser" font-size="30" fill="#fcfc14" transform="translate(720.8 419.4) scale(1.092 1)">2.2 μm</text>
<text class="ser" font-size="30" fill="#fcfc14" transform="translate(360.6 705) rotate(1.3) scale(1.092 1)">Si substrate</text>
<text class="ser" font-size="30" fill="#000" transform="translate(306.6 768) scale(1.092 1)">500 nm</text>
<rect x="292" y="775.3" width="129.5" height="5.4" fill="#000"/>
<rect x="699.6" y="168" width="6.4" height="470" fill="#fcfc14"/>
<polygon points="702.8,145.3 712,173 693.6,173" fill="#fcfc14"/>
<polygon points="702.8,659.8 711.6,633 694,633" fill="#fcfc14"/>
<rect x="676.9" y="142.3" width="6.2" height="6" fill="#fcfc14"/>
<rect x="676.9" y="656.9" width="6.2" height="6" fill="#fcfc14"/>
<rect x="689.4" y="142.3" width="6.2" height="6" fill="#fcfc14"/>
<rect x="689.4" y="656.9" width="6.2" height="6" fill="#fcfc14"/>
<rect x="700.9" y="142.3" width="6.2" height="6" fill="#fcfc14"/>
<rect x="700.9" y="656.9" width="6.2" height="6" fill="#fcfc14"/>
<rect x="713.2" y="142.3" width="6.2" height="6" fill="#fcfc14"/>
<rect x="713.2" y="656.9" width="6.2" height="6" fill="#fcfc14"/>
<rect x="725.2" y="142.3" width="6.2" height="6" fill="#fcfc14"/>
<rect x="725.2" y="656.9" width="6.2" height="6" fill="#fcfc14"/>
</g>
<g filter="url(#b06)">
<rect x="1198.4" y="158.5" width="198.6" height="200.5" fill="#8f8f8f"/>
<rect x="1198.4" y="158.5" width="198.6" height="200.5" fill="#fff" opacity="0.06" filter="url(#nzw)"/>
<line x1="1259.8" y1="158.5" x2="1259.8" y2="359" stroke="#e8e8e8" stroke-width="1.3" stroke-dasharray="3 1.6"/>
<line x1="1331.3" y1="158.5" x2="1331.3" y2="359" stroke="#e8e8e8" stroke-width="1.3" stroke-dasharray="3 1.6"/>
<circle cx="1203.8" cy="190.1" r="1.8" fill="#c4c4c4" opacity="0.55"/>
<circle cx="1365.6" cy="207.7" r="1.8" fill="#c4c4c4" opacity="0.55"/>
<circle cx="1371.9" cy="283" r="1.5" fill="#c4c4c4" opacity="0.95"/>
<circle cx="1238.9" cy="256.6" r="0.9" fill="#c4c4c4" opacity="0.55"/>
<circle cx="1267.8" cy="219" r="1.3" fill="#c4c4c4" opacity="0.55"/>
<circle cx="1246.4" cy="306.8" r="1.6" fill="#c4c4c4" opacity="0.55"/>
<circle cx="1381.9" cy="226.5" r="1.2" fill="#c4c4c4" opacity="0.55"/>
<circle cx="1348" cy="208.2" r="1.1" fill="#c4c4c4" opacity="0.55"/>
<circle cx="1390.7" cy="293" r="1.3" fill="#c4c4c4" opacity="0.55"/>
<rect x="1337.6" y="345.3" width="46" height="2.2" fill="#111"/>
<text class="ser" x="1339" y="340.8" font-size="11.5" fill="#111" textLength="42.5" lengthAdjust="spacingAndGlyphs">100 μm</text>
</g>
<clipPath id="cPlot"><rect x="1177.6" y="120" width="700" height="537.5"/></clipPath>
<g filter="url(#b06)">
<g clip-path="url(#cPlot)">
<rect x="1176.3" y="646.5" width="14.6" height="14.6" fill="#ff0000"/>
<rect x="1180.8" y="639.0" width="14.6" height="14.6" fill="#ff0000"/>
<rect x="1185.0" y="631.3" width="14.6" height="14.6" fill="#ff0000"/>
<rect x="1189.2" y="623.6" width="14.6" height="14.6" fill="#ff0000"/>
<rect x="1193.2" y="615.8" width="14.6" height="14.6" fill="#ff0000"/>
<rect x="1196.7" y="607.8" width="14.6" height="14.6" fill="#ff0000"/>
<rect x="1200.5" y="599.9" width="14.6" height="14.6" fill="#ff0000"/>
<rect x="1205.0" y="592.4" width="14.6" height="14.6" fill="#ff0000"/>
<rect x="1209.6" y="584.9" width="14.6" height="14.6" fill="#ff0000"/>
<rect x="1214.0" y="577.4" width="14.6" height="14.6" fill="#ff0000"/>
<rect x="1218.5" y="569.9" width="14.6" height="14.6" fill="#ff0000"/>
<rect x="1223.3" y="562.5" width="14.6" height="14.6" fill="#ff0000"/>
<rect x="1228.5" y="555.5" width="14.6" height="14.6" fill="#ff0000"/>
<rect x="1233.8" y="548.5" width="14.6" height="14.6" fill="#ff0000"/>
<rect x="1243.5" y="535.7" width="14.6" height="14.6" fill="#ff0000"/>
<rect x="1256.1" y="519.9" width="14.6" height="14.6" fill="#ff0000"/>
<rect x="1277.1" y="499.3" width="14.6" height="14.6" fill="#ff0000"/>
<rect x="1301.1" y="472.2" width="14.6" height="14.6" fill="#ff0000"/>
<rect x="1332.9" y="444.5" width="14.6" height="14.6" fill="#ff0000"/>
<rect x="1371.1" y="411.3" width="14.6" height="14.6" fill="#ff0000"/>
<rect x="1471.5" y="355.4" width="14.6" height="14.6" fill="#ff0000"/>
<rect x="1545.2" y="289.0" width="14.6" height="14.6" fill="#ff0000"/>
<rect x="1564.5" y="148.3" width="14.6" height="14.6" fill="#ff0000"/>
<path d="M1177.6 656.2 C1179.2 654.9 1183.9 651.6 1187.0 648.5 C1190.1 645.4 1193.1 641.6 1196.0 637.5 C1198.9 633.4 1201.5 628.8 1204.3 624.0 C1207.1 619.2 1209.7 614.2 1212.6 609.0 C1215.5 603.8 1218.4 598.3 1221.5 593.0 C1224.6 587.7 1227.8 582.4 1231.0 577.0 C1234.2 571.6 1237.7 565.7 1241.0 560.5 C1244.3 555.3 1247.5 550.6 1250.6 546.0 C1253.7 541.4 1256.7 537.3 1259.8 533.0 C1262.9 528.7 1265.1 525.2 1269.0 520.0 C1272.9 514.8 1279.2 506.2 1283.0 501.5 C1286.8 496.8 1286.9 497.0 1291.6 491.9 C1296.3 486.8 1304.2 477.9 1311.0 471.0 C1317.8 464.1 1325.3 457.4 1332.6 450.8 C1339.9 444.2 1347.1 438.0 1355.0 431.5 C1362.9 425.0 1371.8 418.2 1379.8 411.8 C1387.8 405.4 1395.1 399.1 1403.0 393.0 C1410.9 386.9 1418.3 380.9 1427.0 374.9 C1435.7 368.9 1445.4 362.8 1455.0 357.0 C1464.6 351.2 1473.0 346.4 1484.5 340.0 C1496.0 333.6 1510.7 325.4 1524.0 318.5 C1537.3 311.6 1550.6 304.9 1564.1 298.8 C1577.6 292.7 1591.3 287.4 1605.0 282.0 C1618.7 276.6 1639.6 268.8 1646.5 266.2" fill="none" stroke="#000" stroke-width="2.2"/>
<circle cx="1186.2" cy="654.8" r="8.4" fill="#00ff00"/>
<circle cx="1190.7" cy="647.3" r="8.4" fill="#00ff00"/>
<circle cx="1195.0" cy="639.6" r="8.4" fill="#00ff00"/>
<circle cx="1199.4" cy="631.9" r="8.4" fill="#00ff00"/>
<circle cx="1203.5" cy="624.1" r="8.4" fill="#00ff00"/>
<circle cx="1207.3" cy="616.1" r="8.4" fill="#00ff00"/>
<circle cx="1211.3" cy="608.2" r="8.4" fill="#00ff00"/>
<circle cx="1216.2" cy="600.7" r="8.4" fill="#00ff00"/>
<circle cx="1221.2" cy="593.2" r="8.4" fill="#00ff00"/>
<circle cx="1226.1" cy="585.7" r="8.4" fill="#00ff00"/>
<circle cx="1231.1" cy="578.2" r="8.4" fill="#00ff00"/>
<circle cx="1236.4" cy="570.8" r="8.4" fill="#00ff00"/>
<circle cx="1242.3" cy="563.8" r="8.4" fill="#00ff00"/>
<circle cx="1248.2" cy="556.8" r="8.4" fill="#00ff00"/>
<circle cx="1278.5" cy="518.5" r="8.4" fill="#00ff00"/>
<circle cx="1298.3" cy="498.4" r="8.4" fill="#00ff00"/>
<circle cx="1327.5" cy="471.7" r="8.4" fill="#00ff00"/>
<circle cx="1360.7" cy="445.3" r="8.4" fill="#00ff00"/>
<circle cx="1402.4" cy="420.4" r="8.4" fill="#00ff00"/>
<circle cx="1444.5" cy="378.2" r="8.4" fill="#00ff00"/>
<circle cx="1522.9" cy="364.7" r="8.4" fill="#00ff00"/>
<circle cx="1570.0" cy="313.0" r="8.4" fill="#00ff00"/>
<path d="M1177.6 656.2 C1179.2 654.9 1183.9 651.6 1187.0 648.5 C1190.1 645.4 1193.3 641.6 1196.3 637.5 C1199.3 633.4 1202.0 628.8 1205.0 624.0 C1208.0 619.2 1210.9 614.2 1214.0 609.0 C1217.1 603.8 1220.4 598.3 1223.7 593.0 C1227.0 587.7 1230.5 582.4 1234.1 577.0 C1237.7 571.6 1241.8 565.7 1245.5 560.5 C1249.2 555.3 1252.8 550.6 1256.5 546.0 C1260.2 541.4 1263.8 537.3 1267.5 533.0 C1271.2 528.7 1273.8 525.0 1278.5 520.0 C1283.2 515.0 1290.4 508.3 1296.0 503.0 C1301.6 497.7 1305.4 493.9 1312.1 488.0 C1318.8 482.1 1327.8 474.2 1336.0 467.5 C1344.2 460.8 1353.5 454.1 1361.3 448.0 C1369.1 441.9 1375.5 436.6 1383.0 431.0 C1390.5 425.4 1398.5 419.9 1406.5 414.5 C1414.5 409.1 1422.8 403.6 1431.0 398.5 C1439.2 393.4 1445.9 389.2 1455.7 384.1 C1465.5 379.0 1479.0 373.1 1490.0 368.0 C1501.0 362.9 1510.2 358.5 1521.5 353.6 C1532.8 348.7 1545.6 343.2 1558.0 338.5 C1570.4 333.8 1589.8 327.6 1596.1 325.4" fill="none" stroke="#000" stroke-width="2.2"/>
<path d="M1177.6 656.2 C1179.2 654.9 1183.9 651.6 1187.0 648.5 C1190.1 645.4 1193.2 641.6 1196.0 637.5 C1198.8 633.4 1201.3 628.8 1204.0 624.0 C1206.7 619.2 1209.2 614.2 1212.0 609.0 C1214.8 603.8 1217.6 598.3 1220.5 593.0 C1223.4 587.7 1226.4 582.4 1229.5 577.0 C1232.6 571.6 1235.9 565.7 1239.0 560.5 C1242.1 555.3 1245.1 550.6 1248.0 546.0 C1250.9 541.4 1253.7 537.3 1256.5 533.0 C1259.3 528.7 1261.2 525.4 1265.0 520.0 C1268.8 514.6 1276.7 503.8 1279.0 500.5" fill="none" stroke="#000" stroke-width="2.2"/>
<polygon points="1179.5,645.2 1189.3,661.8 1169.7,661.8" fill="#0000ff"/>
<polygon points="1181.5,641.7 1191.3,658.3 1171.7,658.3" fill="#0000ff"/>
<polygon points="1186.0,644.2 1195.8,660.8 1176.2,660.8" fill="#0000ff"/>
<polygon points="1190.5,641.7 1200.3,658.3 1180.7,658.3" fill="#0000ff"/>
<polygon points="1188.0,637.7 1197.8,654.3 1178.2,654.3" fill="#0000ff"/>
<polygon points="1187.2,638.2 1197.0,654.8 1177.4,654.8" fill="#0000ff"/>
<polygon points="1189.4,634.4 1199.2,651.0 1179.6,651.0" fill="#0000ff"/>
<polygon points="1191.7,630.7 1201.5,647.3 1181.9,647.3" fill="#0000ff"/>
<polygon points="1193.8,626.8 1203.6,643.4 1184.0,643.4" fill="#0000ff"/>
<polygon points="1195.9,623.0 1205.7,639.6 1186.1,639.6" fill="#0000ff"/>
<polygon points="1198.0,619.2 1207.8,635.8 1188.2,635.8" fill="#0000ff"/>
<polygon points="1200.1,615.3 1209.9,631.9 1190.3,631.9" fill="#0000ff"/>
<polygon points="1202.2,611.5 1212.0,628.1 1192.4,628.1" fill="#0000ff"/>
<polygon points="1204.1,607.5 1213.9,624.1 1194.3,624.1" fill="#0000ff"/>
<polygon points="1205.8,603.5 1215.6,620.1 1196.0,620.1" fill="#0000ff"/>
<polygon points="1207.6,599.5 1217.4,616.1 1197.8,616.1" fill="#0000ff"/>
<polygon points="1209.4,595.5 1219.2,612.1 1199.6,612.1" fill="#0000ff"/>
<polygon points="1211.4,591.6 1221.2,608.2 1201.6,608.2" fill="#0000ff"/>
<polygon points="1213.7,587.8 1223.5,604.4 1203.9,604.4" fill="#0000ff"/>
<polygon points="1215.9,584.1 1225.7,600.7 1206.1,600.7" fill="#0000ff"/>
<polygon points="1218.2,580.4 1228.0,597.0 1208.4,597.0" fill="#0000ff"/>
<polygon points="1220.5,576.6 1230.3,593.2 1210.7,593.2" fill="#0000ff"/>
<polygon points="1222.7,572.8 1232.5,589.4 1212.9,589.4" fill="#0000ff"/>
<polygon points="1224.9,569.1 1234.7,585.7 1215.1,585.7" fill="#0000ff"/>
<polygon points="1227.2,565.3 1237.0,581.9 1217.4,581.9" fill="#0000ff"/>
<polygon points="1229.4,561.6 1239.2,578.2 1219.6,578.2" fill="#0000ff"/>
<polygon points="1231.7,557.8 1241.5,574.4 1221.9,574.4" fill="#0000ff"/>
<polygon points="1234.2,554.2 1244.0,570.8 1224.4,570.8" fill="#0000ff"/>
<polygon points="1236.8,550.7 1246.6,567.3 1227.0,567.3" fill="#0000ff"/>
<polygon points="1239.4,547.2 1249.2,563.8 1229.6,563.8" fill="#0000ff"/>
<polygon points="1242.1,543.7 1251.9,560.3 1232.3,560.3" fill="#0000ff"/>
<polygon points="1244.7,540.2 1254.5,556.8 1234.9,556.8" fill="#0000ff"/>
<polygon points="1268.5,534.1 1278.3,550.7 1258.7,550.7" fill="#0000ff"/>
<polygon points="1259.0,489.4 1268.8,506.0 1249.2,506.0" fill="#0000ff"/>
<polygon points="1268.0,472.7 1277.8,489.3 1258.2,489.3" fill="#0000ff"/>
<polygon points="1315.6,436.4 1325.4,453.0 1305.8,453.0" fill="#0000ff"/>
<polygon points="1384.9,439.4 1394.7,456.0 1375.1,456.0" fill="#0000ff"/>
<polygon points="1415.3,336.1 1425.1,352.7 1405.5,352.7" fill="#0000ff"/>
<polygon points="1465.3,291.9 1475.1,308.5 1455.5,308.5" fill="#0000ff"/>
<polygon points="1499.6,297.4 1509.4,314.0 1489.8,314.0" fill="#0000ff"/>
<polygon points="1616.9,256.4 1626.7,273.0 1607.1,273.0" fill="#0000ff"/>
<path d="M1177.6 656.2 C1179.2 654.9 1183.9 651.6 1187.0 648.5 C1190.1 645.4 1193.2 641.6 1196.0 637.5 C1198.8 633.4 1201.3 628.8 1204.0 624.0 C1206.7 619.2 1209.2 614.2 1212.0 609.0 C1214.8 603.8 1217.6 598.3 1220.5 593.0 C1223.4 587.7 1226.4 582.4 1229.5 577.0 C1232.6 571.6 1235.9 565.7 1239.0 560.5 C1242.1 555.3 1245.1 550.6 1248.0 546.0 C1250.9 541.4 1255.1 535.2 1256.5 533.0" fill="none" stroke="#000018" stroke-width="2.4" opacity="0.5"/>
<path d="M1248.0 546.0 C1249.4 543.8 1253.7 537.3 1256.5 533.0 C1259.3 528.7 1261.2 525.4 1265.0 520.0 C1268.8 514.6 1273.3 508.2 1279.0 500.5 C1284.7 492.8 1292.1 482.7 1299.0 474.0 C1305.9 465.3 1311.3 458.0 1320.3 448.5 C1329.3 439.0 1343.1 426.2 1353.1 417.0 C1363.0 407.8 1370.8 401.2 1380.0 393.5 C1389.2 385.8 1399.2 377.9 1408.5 371.0 C1417.8 364.1 1426.9 358.0 1436.0 352.0 C1445.1 346.0 1452.6 341.5 1463.3 335.0 C1474.0 328.5 1487.4 320.2 1500.0 313.0 C1512.6 305.8 1525.7 298.7 1539.0 292.0 C1552.3 285.3 1565.6 279.4 1580.0 273.0 C1594.4 266.6 1617.7 256.8 1625.2 253.6" fill="none" stroke="#000" stroke-width="2.2"/>
</g>
<rect x="1177.6" y="137.8" width="695.8" height="518.4" fill="none" stroke="#000" stroke-width="3.3"/>
<line x1="1247.2" y1="656.2" x2="1247.2" y2="649.7" stroke="#000" stroke-width="3"/>
<line x1="1177.6" y1="604.4" x2="1184.1" y2="604.4" stroke="#000" stroke-width="3"/>
<line x1="1316.8" y1="656.2" x2="1316.8" y2="645.2" stroke="#000" stroke-width="3"/>
<line x1="1177.6" y1="552.5" x2="1188.6" y2="552.5" stroke="#000" stroke-width="3"/>
<line x1="1386.3" y1="656.2" x2="1386.3" y2="649.7" stroke="#000" stroke-width="3"/>
<line x1="1177.6" y1="500.7" x2="1184.1" y2="500.7" stroke="#000" stroke-width="3"/>
<line x1="1455.9" y1="656.2" x2="1455.9" y2="645.2" stroke="#000" stroke-width="3"/>
<line x1="1177.6" y1="448.8" x2="1188.6" y2="448.8" stroke="#000" stroke-width="3"/>
<line x1="1525.5" y1="656.2" x2="1525.5" y2="649.7" stroke="#000" stroke-width="3"/>
<line x1="1177.6" y1="397.0" x2="1184.1" y2="397.0" stroke="#000" stroke-width="3"/>
<line x1="1595.1" y1="656.2" x2="1595.1" y2="645.2" stroke="#000" stroke-width="3"/>
<line x1="1177.6" y1="345.2" x2="1188.6" y2="345.2" stroke="#000" stroke-width="3"/>
<line x1="1664.7" y1="656.2" x2="1664.7" y2="649.7" stroke="#000" stroke-width="3"/>
<line x1="1177.6" y1="293.3" x2="1184.1" y2="293.3" stroke="#000" stroke-width="3"/>
<line x1="1734.2" y1="656.2" x2="1734.2" y2="645.2" stroke="#000" stroke-width="3"/>
<line x1="1177.6" y1="241.5" x2="1188.6" y2="241.5" stroke="#000" stroke-width="3"/>
<line x1="1803.8" y1="656.2" x2="1803.8" y2="649.7" stroke="#000" stroke-width="3"/>
<line x1="1177.6" y1="189.6" x2="1184.1" y2="189.6" stroke="#000" stroke-width="3"/>
<text class="san" font-size="29.8" x="1164.8" y="660.8" text-anchor="end">0.00</text>
<text class="san" font-size="29.8" x="1165.9" y="564.5" text-anchor="end">1.50x10<tspan font-size="18.5" dy="-16.5" dx="2.5">4</tspan></text>
<text class="san" font-size="29.8" x="1165.9" y="460.8" text-anchor="end">3.00x10<tspan font-size="18.5" dy="-16.5" dx="2.5">4</tspan></text>
<text class="san" font-size="29.8" x="1165.9" y="357.2" text-anchor="end">4.50x10<tspan font-size="18.5" dy="-16.5" dx="2.5">4</tspan></text>
<text class="san" font-size="29.8" x="1165.9" y="253.5" text-anchor="end">6.00x10<tspan font-size="18.5" dy="-16.5" dx="2.5">4</tspan></text>
<text class="san" font-size="29.8" x="1165.9" y="149.8" text-anchor="end">7.50x10<tspan font-size="18.5" dy="-16.5" dx="2.5">4</tspan></text>
<text class="san" font-size="27.4" x="1177.0" y="688.9" text-anchor="middle">0.00</text>
<text class="san" font-size="27.4" x="1262.6" y="695">1.50x10<tspan font-size="17.5" dy="-15.5" dx="1.2">4</tspan></text>
<text class="san" font-size="27.4" x="1401.7" y="695">3.00x10<tspan font-size="17.5" dy="-15.5" dx="1.2">4</tspan></text>
<text class="san" font-size="27.4" x="1540.9" y="695">4.50x10<tspan font-size="17.5" dy="-15.5" dx="1.2">4</tspan></text>
<text class="san" font-size="27.4" x="1680.0" y="695">6.00x10<tspan font-size="17.5" dy="-15.5" dx="1.2">4</tspan></text>
<text class="san" font-size="27.4" x="1819.2" y="695">7.50x10<tspan font-size="17.5" dy="-15.5" dx="1.2">4</tspan></text>
<text class="ser" transform="translate(1436.2 749.2)"><tspan x="-1.0" y="0" font-size="40.5" font-weight="bold">Z'</tspan><tspan x="47.9" y="0" font-size="40.5" font-weight="normal">(</tspan><tspan x="60.2" y="0" font-size="40.5" font-weight="normal">Ω</tspan><tspan x="99.3" y="0" font-size="40.5" font-weight="bold">cm</tspan><tspan x="150.8" y="-22.6" font-size="26" font-weight="bold">2</tspan><tspan x="166.6" y="0" font-size="40.5" font-weight="normal">)</tspan></text>
<text class="ser" transform="translate(1013.3 520) rotate(-90)"><tspan x="-0.2" y="0" font-size="41" font-weight="bold">-Z''</tspan><tspan x="74.6" y="0" font-size="41" font-weight="normal">(</tspan><tspan x="86.6" y="0" font-size="41" font-weight="normal">Ω</tspan><tspan x="124.5" y="0" font-size="41" font-weight="bold">cm</tspan><tspan x="176.2" y="-23.6" font-size="26" font-weight="bold">2</tspan><tspan x="190.4" y="0" font-size="41" font-weight="normal">)</tspan></text>
<text class="ser" font-size="40.8" x="1487.6" y="207.4" textLength="202.5" lengthAdjust="spacingAndGlyphs">Cr/GLC-S5</text>
<rect x="1724.2" y="175.6" width="14.8" height="14.8" fill="#ff0000"/>
<circle cx="1731.6" cy="221.6" r="8.7" fill="#00ff00"/>
<polygon points="1731.6,249.6 1741.5,267.0 1721.7,267.0" fill="#0000ff"/>
<line x1="1718" y1="305.8" x2="1758.6" y2="305.8" stroke="#000" stroke-width="2.2"/>
<text class="ser" font-size="30.4" x="1766.6" y="191.1">before</text>
<text class="ser" font-size="30.4" x="1766.6" y="229.2">sliding</text>
<text class="ser" font-size="30.4" x="1766.6" y="268.6">after</text>
<text class="ser" font-size="30.4" x="1787.4" y="315.6">fitting</text>
</g>
<g filter="url(#b1)">
<rect x="1412" y="448" width="448" height="170" fill="#fdfefe"/>
<polygon points="1436,600 1856,602 1858,612 1445,612" fill="#9a9a9a" opacity="0.55" filter="url(#b3)"/>
<linearGradient id="gSt" x1="0" y1="0" x2="1" y2="0"><stop offset="0" stop-color="#b9bcbc"/><stop offset="0.5" stop-color="#c6c8c8"/><stop offset="1" stop-color="#b4b6b6"/></linearGradient>
<polygon points="1431.5,586 1856,590 1856,601.5 1434,599" fill="url(#gSt)"/>
<linearGradient id="gFl" gradientUnits="userSpaceOnUse" x1="1570" y1="560" x2="1850" y2="580"><stop offset="0" stop-color="#8cc4cc"/><stop offset="0.25" stop-color="#9dbfc2"/><stop offset="0.6" stop-color="#a9b4b3"/><stop offset="1" stop-color="#a4a8a8"/></linearGradient>
<polygon points="1584,548 1819.5,548.6 1856,590.5 1570,588" fill="url(#gFl)"/>
<linearGradient id="gFl2" gradientUnits="userSpaceOnUse" x1="0" y1="548" x2="0" y2="590"><stop offset="0" stop-color="#7fae9a" stop-opacity="0.55"/><stop offset="0.35" stop-color="#9ab8b0" stop-opacity="0.2"/><stop offset="1" stop-color="#d0d6d6" stop-opacity="0.35"/></linearGradient>
<polygon points="1584,548 1819.5,548.6 1856,590.5 1570,588" fill="url(#gFl2)"/>
<polygon points="1583,507.6 1822.8,507.6 1822.5,511.5 1583,511.5" fill="#adb0aa"/>
<polygon points="1583,511.5 1822.5,511.5 1822.1,515.5 1583,515.5" fill="#96a596"/>
<polygon points="1583,515.5 1822.1,515.5 1821.8,519.5 1583,519.5" fill="#b7bfb0"/>
<polygon points="1583,519.5 1821.8,519.5 1821.5,523.5 1583,523.5" fill="#94a494"/>
<polygon points="1583,523.5 1821.5,523.5 1821.1,527.5 1583,527.5" fill="#b5bdae"/>
<polygon points="1583,527.5 1821.1,527.5 1820.8,531.5 1583,531.5" fill="#93a393"/>
<polygon points="1583,531.5 1820.8,531.5 1820.5,535.5 1583,535.5" fill="#b6beaf"/>
<polygon points="1583,535.5 1820.5,535.5 1820.2,539.5 1583,539.5" fill="#96a696"/>
<polygon points="1583,539.5 1820.2,539.5 1819.8,543.5 1583,543.5" fill="#b3bbac"/>
<polygon points="1583,543.5 1819.8,543.5 1819.4,548.8 1583,548.8" fill="#8cb089"/>
<linearGradient id="gSb" gradientUnits="userSpaceOnUse" x1="1567" y1="0" x2="1830" y2="0"><stop offset="0" stop-color="#55c3d6"/><stop offset="0.12" stop-color="#62bccd"/><stop offset="0.6" stop-color="#66b5c5"/><stop offset="1" stop-color="#5fb0c0"/></linearGradient>
<polygon points="1567.7,468.5 1829.6,468.8 1822.8,507.8 1567.7,507.8" fill="url(#gSb)"/>
<linearGradient id="gTop" gradientUnits="userSpaceOnUse" x1="1440" y1="0" x2="1830" y2="0"><stop offset="0" stop-color="#7ce2f0"/><stop offset="0.3" stop-color="#72d4e3"/><stop offset="0.55" stop-color="#66bccb"/><stop offset="1" stop-color="#5fadbc"/></linearGradient>
<polygon points="1414.8,491.6 1491.3,451.7 1802.3,451.7 1829.6,468.8 1580,468.8 1567.7,492.7" fill="url(#gTop)"/>
<polygon points="1414.8,491.6 1491.3,451.7 1560,451.7 1440,492" fill="#6fb6c4" opacity="0.55"/>
<polygon points="1567.7,492.7 1581,468.8 1584,548 1570,588 1568,540" fill="#5cc6d8"/>
<polygon points="1568,539.5 1584,507.6 1584,511.7 1568,544.3" fill="#a9aca6"/>
<polygon points="1568,544.3 1584,511.7 1584,515.8 1568,549.1" fill="#8ea38e"/>
<polygon points="1568,549.1 1584,515.8 1584,519.9 1568,553.9" fill="#a9aca6"/>
<polygon points="1568,553.9 1584,519.9 1584,524.0 1568,558.7" fill="#8ea38e"/>
<polygon points="1568,558.7 1584,524.0 1584,528.1 1568,563.5" fill="#a9aca6"/>
<polygon points="1568,563.5 1584,528.1 1584,532.2 1568,568.3" fill="#8ea38e"/>
<polygon points="1568,568.3 1584,532.2 1584,536.3 1568,573.1" fill="#a9aca6"/>
<polygon points="1568,573.1 1584,536.3 1584,540.4 1568,577.9" fill="#8ea38e"/>
<polygon points="1568,577.9 1584,540.4 1584,544.5 1568,582.7" fill="#a9aca6"/>
<polygon points="1568,582.7 1584,544.5 1584,548.6 1568,587.5" fill="#8ea38e"/>
<linearGradient id="gSf" gradientUnits="userSpaceOnUse" x1="0" y1="492" x2="0" y2="540"><stop offset="0" stop-color="#70b9c9"/><stop offset="0.6" stop-color="#6ab6c7"/><stop offset="1" stop-color="#62bdce"/></linearGradient>
<polygon points="1414.8,491.6 1567.7,492.7 1568,539.8 1422.8,539.5" fill="url(#gSf)"/>
<polygon points="1422.8,539.5 1569,539.5 1569,544.5 1423.8,544.5" fill="#a3a5a2"/>
<polygon points="1423.8,544.5 1569,544.5 1569,549 1424.6,549" fill="#8fa08e"/>
<polygon points="1424.6,549 1569,549 1569,554 1425.6,554" fill="#a2a4a1"/>
<polygon points="1425.6,554 1569,554 1569,558.5 1426.4,558.5" fill="#8d9f8c"/>
<polygon points="1426.4,558.5 1569,558.5 1569,563.5 1427.4,563.5" fill="#a3a5a2"/>
<polygon points="1427.4,563.5 1569,563.5 1569,568 1428.3,568" fill="#8ea08d"/>
<polygon points="1428.3,568 1569,568 1569,573 1429.2,573" fill="#a2a4a1"/>
<polygon points="1429.2,573 1569,573 1569,577.5 1430.1,577.5" fill="#8d9f8c"/>
<polygon points="1430.1,577.5 1569,577.5 1569,582.5 1431.0,582.5" fill="#9fa29e"/>
<polygon points="1431.0,582.5 1569,582.5 1569,587.4 1432.0,587.4" fill="#8c9c8b"/>
</g>
<circle cx="1471" cy="541" r="1.3" fill="#e4e8e4" opacity="0.8"/>
<circle cx="1493" cy="542" r="1.3" fill="#e4e8e4" opacity="0.8"/>
<circle cx="1513" cy="541" r="1.3" fill="#e4e8e4" opacity="0.8"/>
<circle cx="1544" cy="541" r="1.3" fill="#e4e8e4" opacity="0.8"/>
<circle cx="1481" cy="559" r="1.3" fill="#e4e8e4" opacity="0.8"/>
<circle cx="1522" cy="559" r="1.3" fill="#e4e8e4" opacity="0.8"/>
<circle cx="1497" cy="568" r="1.3" fill="#e4e8e4" opacity="0.8"/>
<circle cx="1549" cy="551" r="1.3" fill="#e4e8e4" opacity="0.8"/>
<circle cx="1652" cy="509" r="1.3" fill="#e4e8e4" opacity="0.8"/>
<circle cx="1738" cy="511" r="1.3" fill="#e4e8e4" opacity="0.8"/>
<circle cx="1756" cy="510" r="1.3" fill="#e4e8e4" opacity="0.8"/>
<circle cx="1797" cy="511" r="1.3" fill="#e4e8e4" opacity="0.8"/>
<circle cx="1722" cy="517" r="1.3" fill="#e4e8e4" opacity="0.8"/>
<circle cx="1746" cy="518" r="1.3" fill="#e4e8e4" opacity="0.8"/>
<circle cx="1776" cy="524" r="1.3" fill="#e4e8e4" opacity="0.8"/>
<circle cx="1662" cy="516" r="1.3" fill="#e4e8e4" opacity="0.8"/>
<g filter="url(#b06)" fill="none" stroke="#2a6a78" stroke-width="1.3">
<circle cx="1659.7" cy="461.6" r="1.9" stroke="#222"/>
<path d="M1659.7 463.6V475.2M1659.7 491.1V503.7M1638.7 503.7H1680.6M1638.7 503.7V511M1638.7 527V536M1627 536H1651.7M1627 536V541.8M1627 557.8V565.7M1627 565.7H1651.7M1651.7 536V548.6M1651.7 552.6V565.7M1638.7 565.7V572.6M1638.7 572.6H1680.6M1680.6 503.7V532.6M1680.6 536.6V572.6M1659.7 572.6V583.9"/>
<path d="M1647.2 549H1656.2M1647.2 552.3H1656.2M1675.6 532.7H1685.6M1675.6 536.3H1685.6"/>
<circle cx="1659.7" cy="585.8" r="1.9" stroke="#222"/>
<g stroke="#3b4fae">
<rect x="1655.1" y="475.2" width="9.4" height="15.9"/>
<rect x="1634.1" y="511" width="9.2" height="16"/>
<rect x="1622.4" y="541.8" width="9.2" height="16"/>
</g>
<rect x="1632" y="545.6" width="16" height="6.4" rx="3" fill="#2aa6a0" stroke="none"/>
</g>
<g filter="url(#b06)">
<text class="ser" font-size="12.8" fill="#111" x="1660.8" y="449.4">RE</text>
<text class="ser" font-size="12.8" fill="#111" x="1649.4" y="599.4">WE</text>
<text class="ser" font-size="14.2" fill="#173e55" x="1473.5" y="508.7" textLength="50.8" lengthAdjust="spacingAndGlyphs">Solution</text>
<text class="ser" font-size="14.2" fill="#1d2a28" x="1459.3" y="555.5" textLength="80.3" lengthAdjust="spacingAndGlyphs">Cr/GLC film</text>
<text class="ser" font-size="14.2" fill="#1a2424" x="1449.7" y="587.2" textLength="117.3" lengthAdjust="spacingAndGlyphs">316L stainless steel</text>
<text class="ser" font-size="14" fill="#2b3fc0" x="1635.6" y="489.6">R<tspan font-size="8.7" dy="3.2">s</tspan></text>
<text class="ser" font-size="14" fill="#2b3fc0" x="1612" y="521.3">R<tspan font-size="8.7" dy="3.2">1</tspan></text>
<text class="ser" font-size="14" fill="#2b3fc0" x="1604" y="552">R<tspan font-size="8.7" dy="3.2">2</tspan></text>
<text class="ser" font-size="14" fill="#2b3fc0" x="1690.5" y="539.3">Q<tspan font-size="8.7" dy="3.2">1</tspan></text>
<text class="ser" font-size="14" fill="#2b3fc0" x="1659.9" y="556.4">Q<tspan font-size="8.7" dy="3.2">2</tspan></text>
</g>
</svg></body></html>
